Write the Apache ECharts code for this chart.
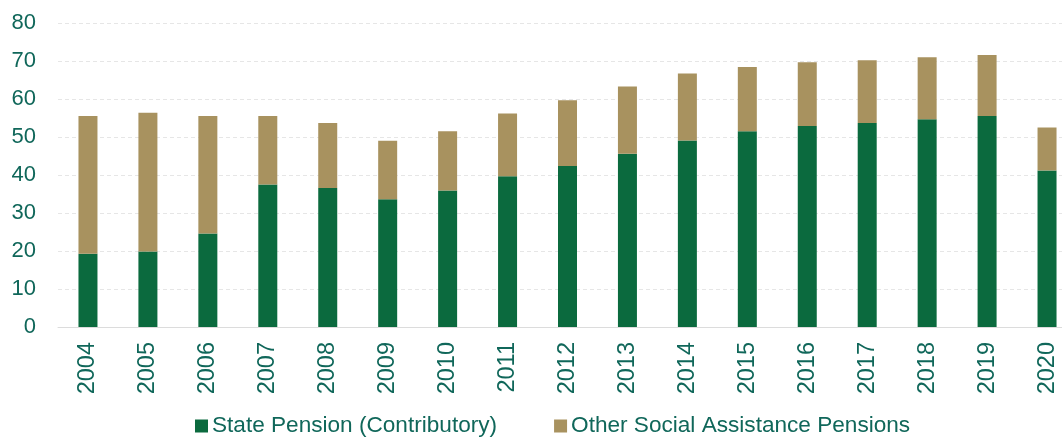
<!DOCTYPE html>
<html>
<head>
<meta charset="utf-8">
<script src="https://cdn.jsdelivr.net/npm/echarts@6/dist/echarts.min.js"></script>
<style>
  html, body { margin: 0; padding: 0; background: #ffffff; }
  #chart { width: 1062px; height: 439px; }
</style>
</head>
<body>
<div id="chart"></div>
<script>
// Pension recipients by type, 2004-2020
const years = ['2004','2005','2006','2007','2008','2009','2010','2011','2012','2013','2014','2015','2016','2017','2018','2019','2020'];
const statePension = [19.3, 19.9, 24.6, 37.5, 36.6, 33.6, 35.9, 39.7, 42.4, 45.6, 49.1, 51.5, 52.9, 53.7, 54.7, 55.5, 41.2];
const otherAssistance = [36.2, 36.5, 30.9, 18.0, 17.1, 15.4, 15.6, 16.5, 17.3, 17.7, 17.6, 16.9, 16.8, 16.5, 16.3, 16.1, 11.3];
const seriesNames = ['State Pension (Contributory)', 'Other Social Assistance Pensions'];

const textColor = '#10675a';
const font = '"Liberation Sans", Arial, sans-serif';

const chart = echarts.init(document.getElementById('chart'), null, { renderer: 'canvas' });
chart.setOption({
  animation: false,
  backgroundColor: '#ffffff',
  textStyle: { fontFamily: font },
  // plot area runs past the right edge, so the last bar sits near the border
  grid: { left: 58, width: 1019, top: 23, bottom: 112, containLabel: false, outerBoundsMode: 'none' },
  legend: {
    left: 195,
    top: 414,
    padding: 0,
    icon: 'rect',
    itemWidth: 13,
    itemHeight: 13,
    itemGap: 57,
    textStyle: { color: textColor, fontSize: 22.6, fontFamily: font, padding: [0, 0, 0, -1], lineHeight: 24 },
    data: seriesNames
  },
  xAxis: {
    type: 'category',
    data: years,
    axisLine: { show: true, lineStyle: { color: '#dcdcdc', width: 1 } },
    axisTick: { show: false },
    axisLabel: { rotate: 90, margin: 15, color: textColor, fontSize: 23.5, fontFamily: font }
  },
  yAxis: {
    type: 'value',
    min: 0,
    max: 80,
    interval: 10,
    axisLine: { show: false },
    axisTick: { show: false },
    axisLabel: { margin: 22, color: textColor, fontSize: 22, fontFamily: font },
    splitLine: { show: true, lineStyle: { color: '#e6e6e6', type: [4, 3], width: 1 } }
  },
  series: [
    {
      name: seriesNames[0],
      type: 'bar',
      stack: 'total',
      barWidth: 19,
      itemStyle: { color: '#0b6a3e' },
      data: statePension
    },
    {
      name: seriesNames[1],
      type: 'bar',
      stack: 'total',
      barWidth: 19,
      itemStyle: { color: '#a8925f' },
      data: otherAssistance
    }
  ]
});
</script>
</body>
</html>
